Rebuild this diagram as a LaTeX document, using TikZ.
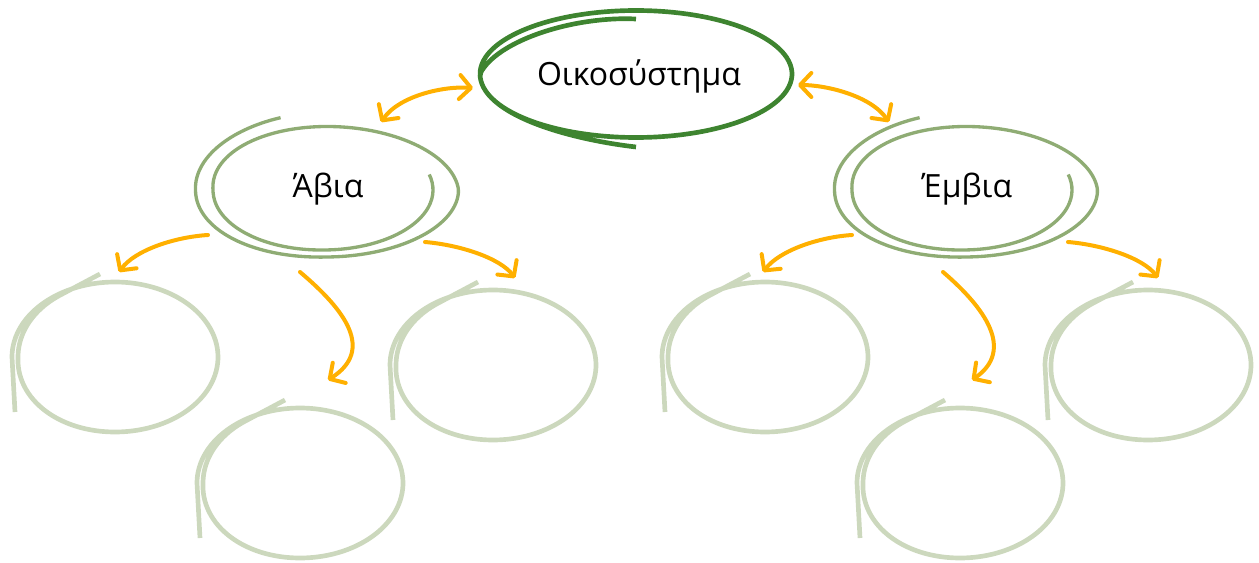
\documentclass[tikz,border=0pt]{standalone}
\usepackage{fontspec}
\setmainfont{Open Sans}
\usetikzlibrary{arrows.meta}
\definecolor{topgreen}{HTML}{3E8430}
\definecolor{midgreen}{HTML}{8FAC74}
\definecolor{lightgreen}{HTML}{CCD8BD}
\definecolor{orangec}{HTML}{FFB000}
\newcommand\lightloop[1]{\draw[lightc,shift={(#1)}] (-100,55) -- plot[domain=180:595,samples=140,variable=\t,smooth] ({(103 - 0.0667*min(max(\t-450,0),90))*cos(\t)},{75*sin(\t)}) -- (-15,-83);}
\newcommand\midloop[1]{\draw[midc,shift={(#1)}] plot[domain=-375:250,samples=160,variable=\t,smooth] ({min(max(\t,-180),0)/45 + (131.5 + 0.06*max(\t-180,0) + 0.11944*min(max(\t,-180),0))*cos(\t)}, {(67 + 0.0625*max(\t-90,0) + 0.019444*(max(min(\t,90),-270)-90))*sin(\t)});}
\begin{document}
\begin{tikzpicture}[x=0.75pt,y=-0.75pt,
  lightc/.style={draw=lightgreen,line width=3.5pt,line cap=butt,line join=round},
  midc/.style={draw=midgreen,line width=2.5pt},
  topc/.style={draw=topgreen,line width=3.5pt},
  label/.style={font=\fontsize{24}{28}\selectfont,text=black,inner sep=0pt},
  spot/.style={inner sep=0pt,minimum size=0pt},
  arr/.style={draw=orangec,line width=3pt,line cap=round,-{Straight Barb[round,length=8.5pt,width=18pt]}},
  darr/.style={draw=orangec,line width=3pt,line cap=round,{Straight Barb[round,length=8.5pt,width=18pt]}-{Straight Barb[round,length=8.5pt,width=18pt]}}]
\useasboundingbox (0,0) rectangle (1259,563);
% nodes
\node[label] (T) at (639,76) {Οικοσύστημα};
\node[label] (A) at (328,189) {Άβια};
\node[label] (E) at (967,189) {Έμβια};
\node[spot] (c1) at (115,357) {};
\node[spot] (c2) at (300,483) {};
\node[spot] (c3) at (493,365) {};
\node[spot] (c4) at (765,357) {};
\node[spot] (c5) at (960,483) {};
\node[spot] (c6) at (1148,365) {};
% top hand-drawn ellipse
\draw[topc,shift={(636,74)}] plot[domain=-270:270,samples=160,variable=\t,smooth] ({(156 - 0.54*max(\t-180,0))*cos(\t)},{(63.5 - 0.0944*max(\t-180,0) + 9.5*(max(-180-\t,0)/90)^3)*sin(\t)});
% middle ellipses
\midloop{327,190}
\midloop{966,190}
% light loops
\lightloop{c1}
\lightloop{c2}
\lightloop{c3}
\lightloop{c4}
\lightloop{c5}
\lightloop{c6}
% arrows
\draw[darr] ([shift={(-166,12)}]T.center) .. controls (445,86) and (400,95) .. ([shift={(53,-67)}]A.center);
\draw[darr] ([shift={(159,9)}]T.center) .. controls (825,85) and (870,95) .. ([shift={(-78,-67)}]E.center);
\draw[arr] ([shift={(-120,46)}]A.center) .. controls (175,237) and (135,250) .. ([shift={(4,-85)}]c1.center);
\draw[arr] ([shift={(-28,83)}]A.center) .. controls (345,310) and (375,350) .. ([shift={(28,-103)}]c2.center);
\draw[arr] ([shift={(97,53)}]A.center) .. controls (460,245) and (500,258) .. ([shift={(22,-87)}]c3.center);
\draw[arr] ([shift={(-115,46)}]E.center) .. controls (820,237) and (780,250) .. ([shift={(-2,-85)}]c4.center);
\draw[arr] ([shift={(-24,83)}]E.center) .. controls (985,308) and (1015,350) .. ([shift={(12,-103)}]c5.center);
\draw[arr] ([shift={(101,53)}]E.center) .. controls (1103,245) and (1143,258) .. ([shift={(10,-87)}]c6.center);
\end{tikzpicture}
\end{document}
